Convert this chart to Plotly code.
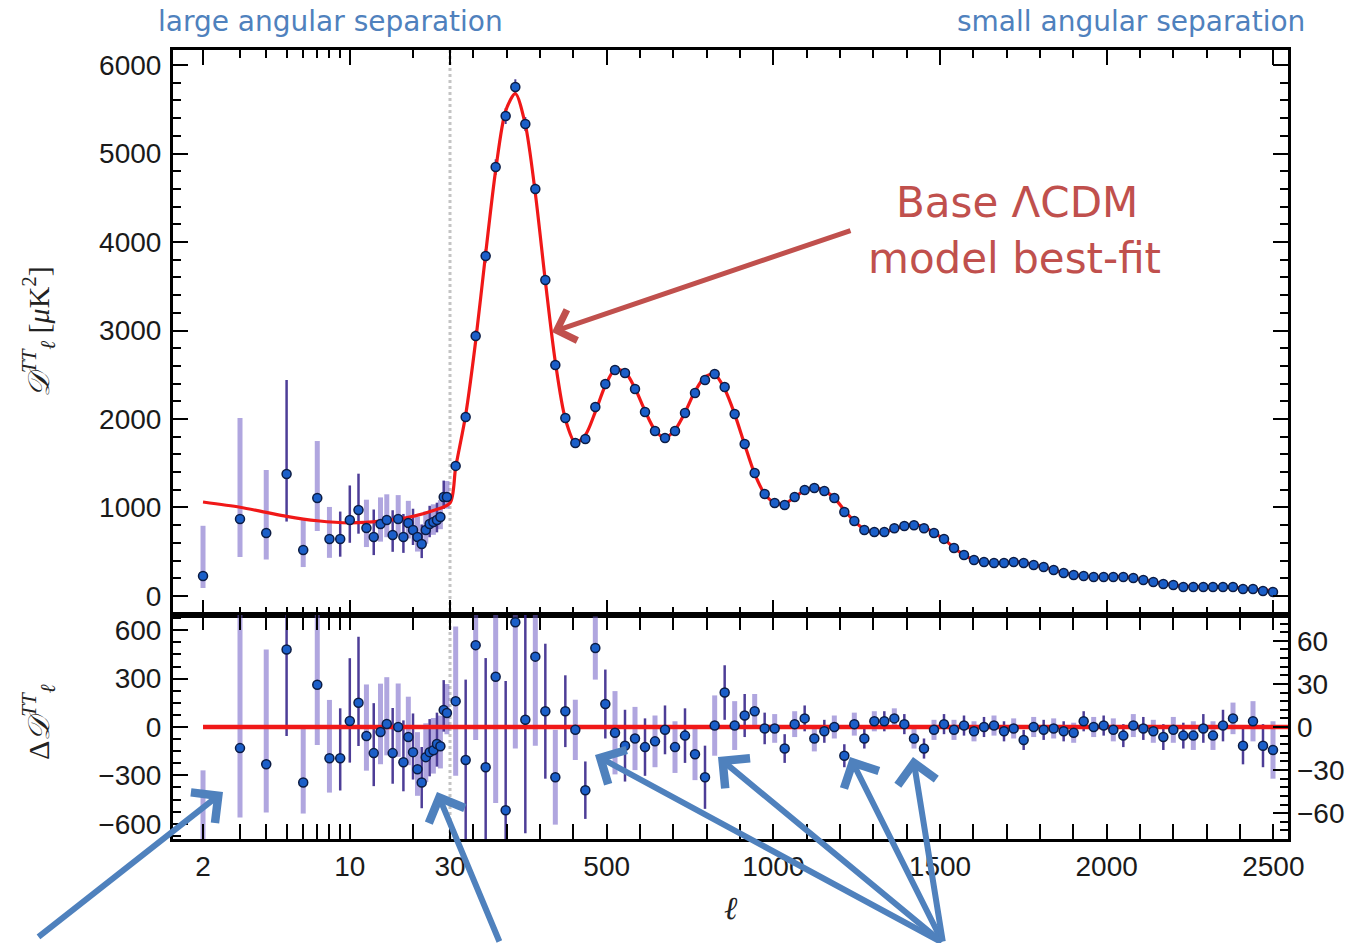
import numpy as np
import plotly.graph_objects as go

# ---------------- CMB temperature power spectrum ----------------
# Low multipoles (unbinned), l = 2..29
ELL_LOW = [2, 3, 4, 5, 6, 7, 8, 9, 10, 11, 12, 13, 14, 15, 16, 17, 18, 19, 20,
           21, 22, 23, 24, 25, 26, 27, 28, 29]
D_LOW = [226, 870, 712, 1378, 520, 1107, 644, 644, 859, 972, 768, 667, 814, 859,
         689, 870, 667, 825, 746, 667, 588, 746, 814, 836, 859, 893, 1119, 1119]
ERR_LOW_PLUS = [567, 1141, 712, 1063, 350, 644, 362, 310, 390, 410, 320, 310, 300,
                290, 280, 270, 260, 250, 240, 230, 220, 210, 205, 200, 195, 190, 185, 180]
ERR_LOW_MINUS = [136, 430, 300, 537, 193, 373, 213, 200, 258, 268, 215, 205, 200,
                 195, 190, 185, 180, 175, 170, 165, 160, 155, 150, 145, 140, 138, 135, 132]
DD_LOW = [-836, -131, -231, 481, -344, 262, -194, -194, 37, 150, -56, -162, -31, 19,
          -162, 0, -219, -62, -156, -262, -344, -187, -156, -144, -106, -119, 106, 87]

# High multipoles, bins of width 30
ELL_HIGH = [47, 77, 107, 137, 167, 197, 226, 256, 286, 316, 346, 376, 406, 436, 466,
            496, 525, 555, 585, 615, 645, 675, 705, 735, 765, 795, 824, 854, 884, 914,
            944, 974, 1004, 1034, 1064, 1094, 1123, 1153, 1183, 1213, 1243, 1273, 1303,
            1333, 1363, 1393, 1422, 1452, 1482, 1512, 1542, 1572, 1602, 1632, 1662,
            1692, 1721, 1751, 1781, 1811, 1841, 1871, 1901, 1931, 1961, 1991, 2020,
            2050, 2080, 2110, 2140, 2170, 2200, 2230, 2260, 2290, 2319, 2349, 2379,
            2409, 2439, 2469, 2499]
D_HIGH = [1470, 2023, 2938, 3842, 4847, 5424, 5751, 5333, 4599, 3571, 2610, 2011,
          1729, 1774, 2136, 2395, 2554, 2520, 2339, 2079, 1864, 1785, 1864, 2068,
          2294, 2441, 2508, 2362, 2056, 1718, 1390, 1153, 1051, 1028, 1119, 1198,
          1220, 1186, 1107, 949, 847, 746, 723, 723, 765, 791, 800, 765, 712, 645,
          542, 463, 407, 384, 373, 373, 384, 373, 350, 328, 294, 260, 237, 226, 215,
          215, 215, 215, 203, 181, 158, 136, 124, 102, 102, 102, 102, 102, 102, 79,
          79, 56, 45]
DD_HIGH = [18, -23, 57, -28, 35, -58, 73, 5, 49, 11, -35, 11, -2, -44, 55, 16, -4,
           -13, -8, -14, -10, -2, -14, -6, -19, -35, 1, 24, 1, 8, 11, -1, -1, -15, 2,
           6, -8, -3, 0, -20, 2, -8, 4, 4, 6, 2, -8, -15, -2, 2, -2, 1, -3, 0, 1, -3,
           -1, -9, 0, -2, -1, -3, -4, 4, 0, 1, -2, -6, 1, -1, -3, -7, -2, -6, -6, -1,
           -6, 1, 6, -13, 4, -13, -16]
ERR_HIGH = [52, 56, 66, 76, 88, 90, 88, 79, 62, 47, 33, 25, 21, 20, 22, 24, 29, 25,
            22, 20, 18, 17, 18, 19, 18, 22, 21, 19, 17, 15, 12, 11, 10, 10, 9, 9, 9,
            8, 8, 8, 8, 7, 7, 7, 7, 7, 7, 7, 7, 7, 7, 7, 7, 7, 7, 7, 7, 7, 7, 7, 7, 7,
            7, 7, 7, 7, 8, 8, 8, 8, 8, 9, 9, 9, 10, 10, 10, 11, 11, 13, 14, 15, 20]

# Base LCDM best-fit model
MODEL_LOW_ELL = [2, 3, 4, 5, 7, 10, 14, 20, 25, 30]
MODEL_LOW_D = [1062, 1003, 945, 900, 850, 826, 845, 900, 965, 1050]
MODEL_HIGH = [1452, 2046, 2881, 3870, 4812, 5482, 5678, 5328, 4550, 3560, 2645, 2000,
              1731, 1818, 2081, 2379, 2558, 2533, 2347, 2093, 1874, 1787, 1878, 2074,
              2313, 2476, 2507, 2338, 2055, 1710, 1379, 1154, 1052, 1043, 1117, 1192,
              1228, 1189, 1107, 969, 845, 754, 719, 719, 759, 789, 808, 780, 714, 643,
              544, 462, 410, 384, 372, 376, 385, 382, 350, 330, 295, 263, 241, 222, 215,
              214, 217, 221, 202, 182, 161, 143, 126, 108, 108, 103, 108, 101, 96, 92,
              75, 69, 61]

X_MAJOR = [2, 10, 30, 500, 1000, 1500, 2000, 2500]
X_MAJOR_TEXT = ["2", "10", "30", "500", "1000", "1500", "2000", "2500"]
X_MINOR = [3, 4, 5, 6, 7, 8, 9, 20] + [m for m in range(100, 2500, 100) if m % 500]

# ---------------- hybrid log/linear multipole axis ----------------
L_SPLIT = 30
DECADE = 630.0  # linear-l units per decade on the log side


def lx(ell):
    ell = np.asarray(ell, dtype=float)
    return np.where(ell >= L_SPLIT, ell, L_SPLIT + DECADE * np.log10(ell / L_SPLIT))


X_RANGE = [-801, 2544]

W, H = 1349, 943
PX = lambda px: px / W
PY = lambda py: 1 - py / H

X_DOM = [PX(173), PX(1288)]
TOP_DOM = [PY(615), PY(50)]
BOT_DOM = [PY(839), PY(615)]

BAR_LIGHT = "rgba(112, 92, 196, 0.55)"
BAR_DARK = "rgba(58, 40, 140, 0.9)"
MARKER = dict(size=9, color="#1b5fc9", line=dict(color="#0c1c44", width=1.5))
MODEL_RED = "#f01818"
TEXT_BLUE = "#4f81bd"
TEXT_RED = "#c0504d"

DARK_LOW = {5, 9, 10, 11, 13, 16, 18, 20, 22, 24, 26, 28}

fig = go.Figure()

xl = lx(ELL_LOW)
xh = lx(ELL_HIGH)
low_dark = [i for i, e in enumerate(ELL_LOW) if e in DARK_LOW]
low_light = [i for i, e in enumerate(ELL_LOW) if e not in DARK_LOW]


def pick(seq, idx):
    return [seq[i] for i in idx]


def bar_trace(x, y, plus, minus, color, width, xa, ya):
    return go.Scatter(
        x=x, y=y, mode="markers", xaxis=xa, yaxis=ya, showlegend=False, hoverinfo="skip",
        marker=dict(size=1, color="rgba(0,0,0,0)"),
        error_y=dict(type="data", symmetric=False, array=plus, arrayminus=minus,
                     color=color, thickness=width, width=0),
    )


# ---- top panel ----
for idx, col, w in ((low_light, BAR_LIGHT, 5), (low_dark, BAR_DARK, 2.5)):
    fig.add_trace(bar_trace(pick(xl, idx), pick(D_LOW, idx), pick(ERR_LOW_PLUS, idx),
                            pick(ERR_LOW_MINUS, idx), col, w, "x", "y"))
fig.add_trace(bar_trace(xh, D_HIGH, ERR_HIGH, ERR_HIGH, BAR_DARK, 2, "x", "y"))

fig.add_trace(go.Scatter(
    x=np.concatenate([lx(MODEL_LOW_ELL), xh]), y=MODEL_LOW_D + MODEL_HIGH,
    mode="lines", line=dict(color=MODEL_RED, width=3.2, shape="spline", smoothing=0.8),
    xaxis="x", yaxis="y", showlegend=False, hoverinfo="skip"))

fig.add_trace(go.Scatter(x=xl, y=D_LOW, mode="markers", marker=MARKER,
                         xaxis="x", yaxis="y", showlegend=False))
fig.add_trace(go.Scatter(x=xh, y=D_HIGH, mode="markers", marker=MARKER,
                         xaxis="x", yaxis="y", showlegend=False))

# ---- residual panel ----
for idx, col, w in ((low_light, BAR_LIGHT, 5), (low_dark, BAR_DARK, 2.5)):
    fig.add_trace(bar_trace(pick(xl, idx), pick(DD_LOW, idx), pick(ERR_LOW_PLUS, idx),
                            pick(ERR_LOW_MINUS, idx), col, w, "x2", "y2"))
fig.add_trace(go.Scatter(x=[lx(ELL_LOW[0]), lx(L_SPLIT)], y=[0, 0], mode="lines",
                         line=dict(color=MODEL_RED, width=4.5), xaxis="x2", yaxis="y2",
                         showlegend=False, hoverinfo="skip"))
fig.add_trace(go.Scatter(x=xl, y=DD_LOW, mode="markers", marker=MARKER,
                         xaxis="x2", yaxis="y2", showlegend=False))

hi_even = list(range(0, len(ELL_HIGH), 2))
hi_odd = list(range(1, len(ELL_HIGH), 2))
for idx, col, w in ((hi_even, BAR_LIGHT, 5), (hi_odd, BAR_DARK, 2.5)):
    fig.add_trace(bar_trace(pick(xh, idx), pick(DD_HIGH, idx), pick(ERR_HIGH, idx),
                            pick(ERR_HIGH, idx), col, w, "x2", "y3"))
fig.add_trace(go.Scatter(x=[lx(L_SPLIT), X_RANGE[1]], y=[0, 0], mode="lines",
                         line=dict(color=MODEL_RED, width=4.5), xaxis="x2", yaxis="y3",
                         showlegend=False, hoverinfo="skip"))
fig.add_trace(go.Scatter(x=xh, y=DD_HIGH, mode="markers", marker=MARKER,
                         xaxis="x2", yaxis="y3", showlegend=False))

# ---------------- axes ----------------
TICKFONT = dict(family="Liberation Sans, Arial, sans-serif", size=28, color="#1a1a1a")
frame = dict(showline=True, linecolor="black", linewidth=3, showgrid=False,
             zeroline=False, ticks="inside", tickcolor="black", tickwidth=2,
             automargin=False)

xcommon = dict(frame, range=X_RANGE, domain=X_DOM, mirror="allticks",
               tickmode="array", tickvals=lx(X_MAJOR), ticklen=15,
               minor=dict(tickmode="array", tickvals=lx(X_MINOR), ticks="inside",
                          ticklen=8, tickcolor="black", tickwidth=2))

fig.update_layout(
    width=W, height=H, margin=dict(l=0, r=0, t=0, b=0, autoexpand=False),
    paper_bgcolor="white", plot_bgcolor="white", showlegend=False,
    xaxis=dict(xcommon, anchor="y", showticklabels=False),
    xaxis2=dict(xcommon, anchor="y2", matches="x", ticktext=X_MAJOR_TEXT,
                tickfont=TICKFONT, ticklabelstandoff=0),
    yaxis=dict(frame, domain=TOP_DOM, anchor="x", range=[-215, 6170], mirror="allticks",
               tickmode="array", tickvals=[0, 1000, 2000, 3000, 4000, 5000, 6000],
               ticklen=15, tickfont=TICKFONT, ticklabelstandoff=3,
               minor=dict(dtick=200, ticks="inside", ticklen=8, tickcolor="black",
                          tickwidth=2)),
    yaxis2=dict(frame, domain=BOT_DOM, anchor="x2", range=[-695, 695], mirror=True,
                tickmode="array", tickvals=[-600, -300, 0, 300, 600], ticklen=15,
                tickfont=TICKFONT, ticklabelstandoff=3,
                minor=dict(dtick=75, ticks="inside", ticklen=8, tickcolor="black",
                           tickwidth=2)),
    yaxis3=dict(frame, overlaying="y2", side="right", anchor="x2", range=[-78, 78],
                showline=False, tickmode="array", tickvals=[-60, -30, 0, 30, 60],
                ticklen=15, tickfont=TICKFONT, ticklabelstandoff=8,
                minor=dict(dtick=6, ticks="inside", ticklen=8, tickcolor="black",
                           tickwidth=2)),
)

# dashed separator between the log and linear parts
fig.add_shape(type="line", xref="x", yref="paper", x0=float(lx(L_SPLIT)),
              x1=float(lx(L_SPLIT)), y0=BOT_DOM[0], y1=TOP_DOM[1],
              line=dict(color="#c4c4c4", width=3, dash="dot"), layer="below")

# ---------------- texts ----------------
SERIF = "Liberation Serif, Times New Roman, serif"
ann = [
    dict(x=PX(38), y=PY(332), text="<i>𝒟</i><sup><i>TT</i></sup><sub><i>ℓ</i></sub> [<i>μ</i>K<sup>2</sup>]",
         textangle=-90, font=dict(family=SERIF, size=30, color="#222")),
    dict(x=PX(38), y=PY(722), text="Δ<i>𝒟</i><sup><i>TT</i></sup><sub><i>ℓ</i></sub>",
         textangle=-90, font=dict(family=SERIF, size=30, color="#222")),
    dict(x=PX(731), y=PY(908), text="<i>ℓ</i>", font=dict(family=SERIF, size=32, color="#222")),
    dict(x=PX(330), y=PY(21), text="large angular separation",
         font=dict(family="DejaVu Sans", size=28, color=TEXT_BLUE)),
    dict(x=PX(1131), y=PY(21), text="small angular separation",
         font=dict(family="DejaVu Sans", size=28, color=TEXT_BLUE)),
    dict(x=PX(1017), y=PY(203), text="Base ΛCDM",
         font=dict(family="DejaVu Sans", size=42, color=TEXT_RED)),
    dict(x=PX(1015), y=PY(259), text="model best-fit",
         font=dict(family="DejaVu Sans", size=42, color=TEXT_RED)),
]
for a in ann:
    fig.add_annotation(xref="paper", yref="paper", showarrow=False,
                       xanchor="center", yanchor="middle", **a)

# pointer arrows (tip position, tail offset in pixels)
ARROWS = [
    ((552, 332), (300, -102), TEXT_RED, 5),
    ((223, 792), (-186, 146), TEXT_BLUE, 6),
    ((437, 792), (63, 153), TEXT_BLUE, 6),
    ((595, 755), (348, 190), TEXT_BLUE, 6),
    ((718, 757), (225, 188), TEXT_BLUE, 6),
    ((850, 757), (93, 188), TEXT_BLUE, 6),
    ((913, 757), (30, 188), TEXT_BLUE, 6),
]
for (tx, ty), (ax, ay), col, w in ARROWS:
    fig.add_annotation(xref="paper", yref="paper", x=PX(tx), y=PY(ty), ax=ax, ay=ay,
                       text="", showarrow=True, arrowhead=4, arrowsize=1.25,
                       arrowwidth=w, arrowcolor=col)

fig.write_html("out.html")
